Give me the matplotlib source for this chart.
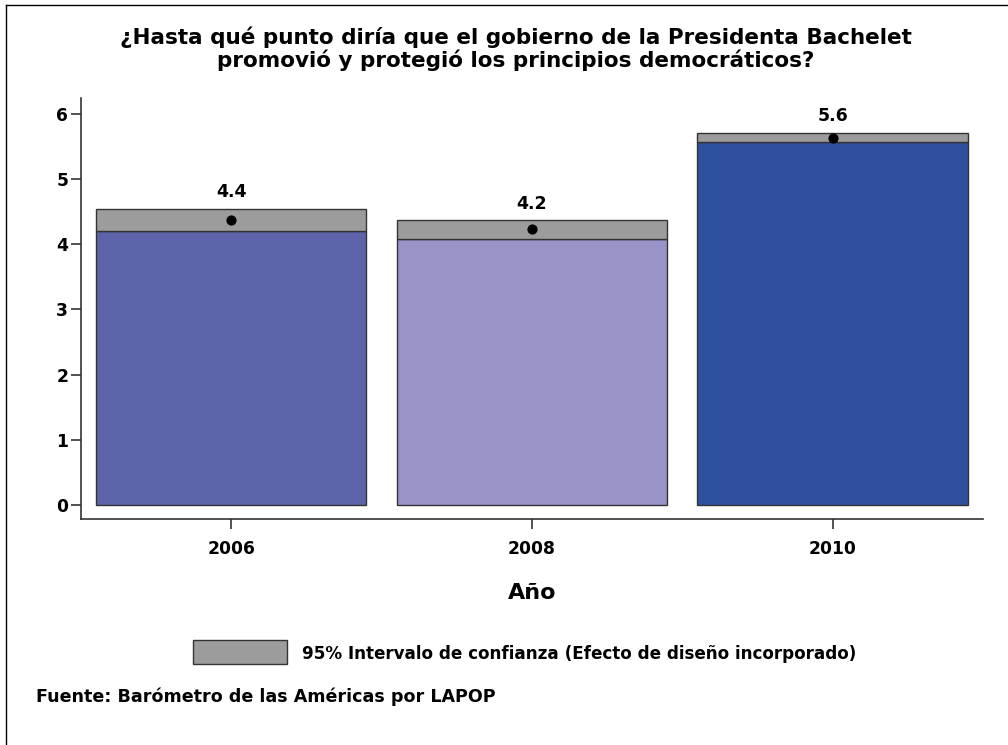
import matplotlib
matplotlib.use("Agg")
import matplotlib.pyplot as plt
from matplotlib.patches import Rectangle
from matplotlib.lines import Line2D

years = ["2006", "2008", "2010"]
means = [4.37, 4.23, 5.64]
ci_low = [4.21, 4.09, 5.57]
ci_high = [4.54, 4.37, 5.71]
labels = ["4.4", "4.2", "5.6"]
colors = ["#5c63a9", "#9894c8", "#2f4f9f"]

title = "¿Hasta qué punto diría que el gobierno de la Presidenta Bachelet\npromovió y protegió los principios democráticos?"
xlabel = "Año"
legend_text = "95% Intervalo de confianza (Efecto de diseño incorporado)"
source = "Fuente: Barómetro de las Américas por LAPOP"

plt.rcParams['font.family'] = ['DejaVu Sans']
plt.rcParams['font.weight'] = 'bold'

W, H = 1008, 745
fig = plt.figure(figsize=(W/100, H/100), dpi=100)
ax = fig.add_axes([80.7/W, 1-519/H, (983-80.7)/W, (519-98)/H])

x = list(range(len(years)))
gray = "#9c9c9c"
edge = "#333333"
ax.bar(x, ci_low, width=0.9, color=colors, edgecolor=edge, linewidth=1.0, zorder=2)
ax.bar(x, [h - l for h, l in zip(ci_high, ci_low)], bottom=ci_low, width=0.9,
       color=gray, edgecolor=edge, linewidth=1.0, zorder=2)
ax.scatter(x, means, s=40, color="black", zorder=3)
for xi, hi, lab in zip(x, ci_high, labels):
    ax.text(xi, hi + 0.12, lab, ha="center", va="bottom", fontsize=12.5, fontweight="bold")

ax.set_xlim(-0.5, 2.5)
ax.set_ylim(-0.22, 6.25)
ax.set_xticks(x)
ax.set_xticklabels(years)
ax.set_yticks(range(0, 7))
ax.tick_params(axis="both", labelsize=12.3, length=7, width=1.2, color="#333333", direction="out")
ax.tick_params(axis="y", pad=2)
ax.tick_params(axis="x", pad=8)
for lab in ax.get_xticklabels() + ax.get_yticklabels():
    lab.set_fontweight("bold")
ax.spines["top"].set_visible(False)
ax.spines["right"].set_visible(False)
ax.spines["left"].set_color("#333333")
ax.spines["bottom"].set_color("#333333")
ax.spines["left"].set_linewidth(1.2)
ax.spines["bottom"].set_linewidth(1.2)

ax.set_xlabel(xlabel, fontsize=16, fontweight="bold", labelpad=18)

fig.text(516/W, 1-49/H, title, ha="center", va="center", fontsize=15.5,
         fontweight="bold", linespacing=1.08)

# legend
fig.patches.append(Rectangle((193/W, 1-664/H), 94/W, 24/H, transform=fig.transFigure,
                             facecolor=gray, edgecolor=edge, linewidth=1.0))
fig.text(302/W, 1-654/H, legend_text, ha="left", va="center", fontsize=12.1, fontweight="bold")
fig.text(36/W, 1-697/H, source, ha="left", va="center", fontsize=12.6, fontweight="bold")

# outer border (top and left)
fig.add_artist(Line2D([6/W, 1.0], [1-5/H, 1-5/H], transform=fig.transFigure, color="black", linewidth=1))
fig.add_artist(Line2D([6/W, 6/W], [0, 1-5/H], transform=fig.transFigure, color="black", linewidth=1))

fig.savefig("out.png", dpi=100, facecolor="white")
